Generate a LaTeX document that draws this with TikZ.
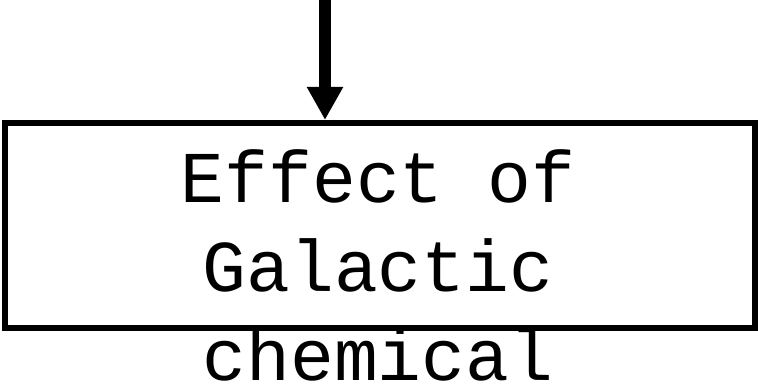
\documentclass[tikz,border=0pt]{standalone}
\usepackage{fontspec}
\setmonofont{Liberation Mono}
\usetikzlibrary{arrows.meta}
\begin{document}
\begin{tikzpicture}[x=1pt,y=1pt,
  boxstyle/.style={draw=black, line width=6pt, fill=none, inner sep=0pt,
    minimum width=750pt, minimum height=205pt},
  labelstyle/.style={font=\ttfamily\fontsize{73}{89}\selectfont, align=center, inner sep=0pt},
  flow/.style={line width=12pt, -{Triangle[width=34pt,length=33pt]}}]
  \useasboundingbox (0,0) rectangle (758,-390);
  \node[boxstyle] (box) at (380,-225.5) {};
  \node[labelstyle, anchor=base] (label) at (378,-380) {Effect of\\Galactic\\chemical};
  \coordinate (top) at (325,0);
  \coordinate (tip) at (325,-120);
  \draw[flow] (top) -- (tip);
\end{tikzpicture}
\end{document}
